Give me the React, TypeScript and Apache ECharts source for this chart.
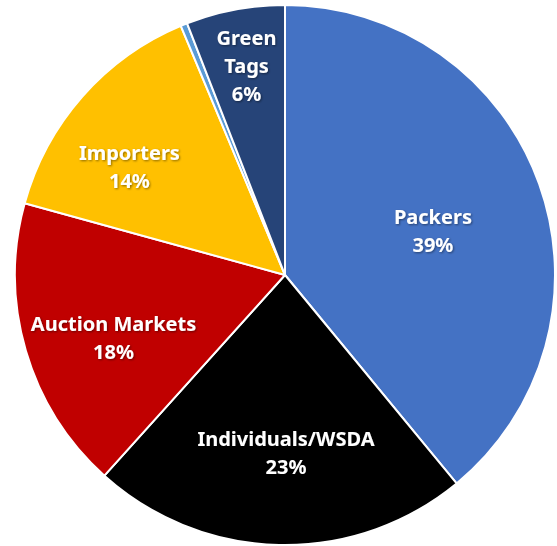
import React, { useEffect, useRef } from "react";
import * as echarts from "echarts";

const categories = ["Packers", "Individuals/WSDA", "Auction Markets", "Importers", "Other", "Green\nTags"];
const values = [39.0, 22.6, 17.6, 14.4, 0.4, 5.9];
const colors = ["#4472C4", "#000000", "#C00000", "#FFC000", "#5B9BD5", "#264478"];
const labelOffsets: [number, number][] = [[18, 2], [4, 40], [-39, 24], [-52, -17], [0, 0], [-13, -74]];
const showLabel = [true, true, true, true, false, true];

export default function App() {
  const ref = useRef<HTMLDivElement>(null);
  useEffect(() => {
    document.body.style.margin = "0";
    const chart = echarts.init(ref.current!, undefined, { renderer: "svg" });
    chart.setOption({
      animation: false,
      backgroundColor: "#ffffff",
      series: [
        {
          type: "pie",
          center: [285, 275],
          radius: 270,
          startAngle: 90,
          clockwise: true,
          percentPrecision: 0,
          avoidLabelOverlap: false,
          itemStyle: { borderColor: "#ffffff", borderWidth: 2 },
          label: {
            position: "inside",
            formatter: "{b}\n{d}%",
            color: "#ffffff",
            fontFamily: "Noto Sans",
            fontWeight: "bold",
            fontSize: 20,
            lineHeight: 28,
            textShadowColor: "rgba(0,0,0,0.45)",
            textShadowBlur: 2,
            textShadowOffsetX: 1,
            textShadowOffsetY: 1,
          },
          labelLine: { show: false },
          emphasis: { disabled: true },
          data: categories.map((name, i) => ({
            name,
            value: values[i],
            itemStyle: { color: colors[i] },
            label: { show: showLabel[i], offset: labelOffsets[i] },
          })),
        },
      ],
    });
    return () => chart.dispose();
  }, []);
  return <div ref={ref} style={{ width: 557, height: 546 }} />;
}
